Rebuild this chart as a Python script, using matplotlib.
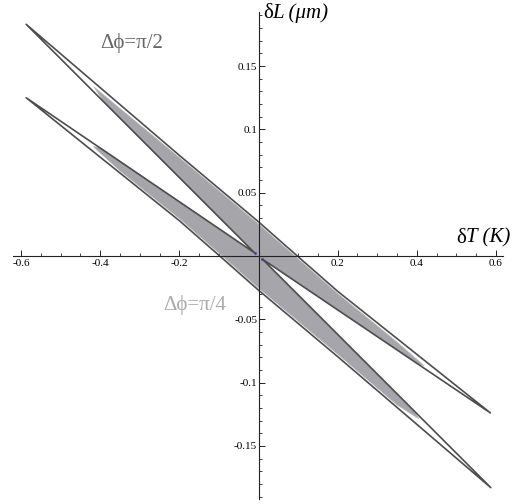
import numpy as np
import matplotlib.pyplot as plt
from matplotlib.patches import Polygon
from matplotlib.ticker import FixedLocator, FixedFormatter

plt.rcParams['font.family'] = ['Liberation Serif', 'DejaVu Serif']

# Contour (dark outline): UL tip -> upper edge -> UR tip -> inner edge -> near origin
# -> LR tip -> lower edge -> LL tip -> inner edge -> near origin -> back
outline_T = [-0.587, -0.2, 0.0, 0.098, 0.2, 0.586,
             0.0096, 0.587, 0.2, 0.0, -0.098, -0.2, -0.587,
             -0.0096]
outline_L = [0.183, 0.0795, 0.027, 0.0, -0.0279, -0.124,
             -0.0024, -0.183, -0.0795, -0.027, 0.0, 0.0279, 0.125,
             0.0024]

# Filled region (grey), same shape with shorter arms
fill_T = [-0.415, -0.2, 0.0, 0.098, 0.2, 0.35, 0.418, 0.40,
          0.0096, 0.39, 0.405, 0.35, 0.2, 0.0, -0.098, -0.2, -0.35, -0.417, -0.40,
          -0.0096, -0.39]
fill_L = [0.1333, 0.0777, 0.0252, -0.0018, -0.0297, -0.0680, -0.0866, -0.0847,
          -0.0024, -0.1214, -0.1285, -0.1176, -0.0775, -0.0252, 0.0018, 0.0297, 0.0673, 0.0863, 0.0856,
          0.0024, 0.1214]

# small dots at the pinch points
dot_T = [-0.0096, 0.0096]
dot_L = [0.0024, -0.0024]

x_ticks = [-0.6, -0.4, -0.2, 0.2, 0.4, 0.6]
x_labels = ['-0.6', '-0.4', '-0.2', '0.2', '0.4', '0.6']
y_ticks = [-0.15, -0.1, -0.05, 0.05, 0.1, 0.15]
y_labels = ['-0.15', '-0.1', '-0.05', '0.05', '0.1', '0.15']

fig = plt.figure(figsize=(5.29, 5.04), dpi=100)
ax = fig.add_axes([0, 0, 1, 1])
ax.set_xlim(-0.6531, 0.6834)
ax.set_ylim(-0.1959, 0.2022)

ax.add_patch(Polygon(np.column_stack([fill_T, fill_L]), closed=True,
                     facecolor='#a6a6aa', edgecolor='#b4b4b6', lw=0.5, zorder=2))
ax.add_patch(Polygon(np.column_stack([outline_T, outline_L]), closed=True,
                     facecolor='none', edgecolor='#4d4d4d', lw=1.2,
                     joinstyle='round', zorder=3))
ax.scatter(dot_T, dot_L, s=4, color='#4a3c9a', zorder=4, linewidths=0)

# axes through the origin
for side in ['top', 'right']:
    ax.spines[side].set_visible(False)
ax.spines['left'].set_position(('data', 0))
ax.spines['bottom'].set_position(('data', 0))
ax.spines['bottom'].set_bounds(-0.62, 0.618)
ax.spines['left'].set_bounds(-0.192, 0.1927)
for side in ['left', 'bottom']:
    ax.spines[side].set_color('#222222')
    ax.spines[side].set_linewidth(0.8)
    ax.spines[side].set_zorder(5)

ax.xaxis.set_major_locator(FixedLocator(x_ticks))
ax.xaxis.set_major_formatter(FixedFormatter(x_labels))
ax.xaxis.set_minor_locator(FixedLocator(np.round(np.arange(-0.6, 0.601, 0.05), 3)))
ax.yaxis.set_major_locator(FixedLocator(y_ticks))
ax.yaxis.set_major_formatter(FixedFormatter(y_labels))
ax.yaxis.set_minor_locator(FixedLocator(np.round(np.arange(-0.19, 0.191, 0.01), 3)))

ax.tick_params(which='major', direction='in', length=4, width=0.7, labelsize=8, color='#222222')
ax.tick_params(which='minor', direction='in', length=2.2, width=0.6, color='#222222')
ax.tick_params(axis='x', which='major', pad=2.5)
ax.tick_params(axis='y', which='major', pad=1)

# axis labels: upright delta, italic rest
t1 = ax.text(0.011, 0.1915, 'δ', fontsize=15, ha='left', va='center')
ax.annotate('L (μm)', xy=(1, 0), xycoords=t1, ha='left', va='bottom',
            fontsize=15, style='italic')
t2 = ax.text(0.50, 0.0142, 'δ', fontsize=15, ha='left', va='center')
ax.annotate('T (K)', xy=(1, 0), xycoords=t2, ha='left', va='bottom',
            fontsize=15, style='italic')

ax.text(-0.400, 0.168, 'Δϕ=π/2', fontsize=15, color='#666666', ha='left', va='center')
ax.text(-0.241, -0.0387, 'Δϕ=π/4', fontsize=15, color='#aaaaaa', ha='left', va='center')

fig.savefig('out.png', dpi=100)
